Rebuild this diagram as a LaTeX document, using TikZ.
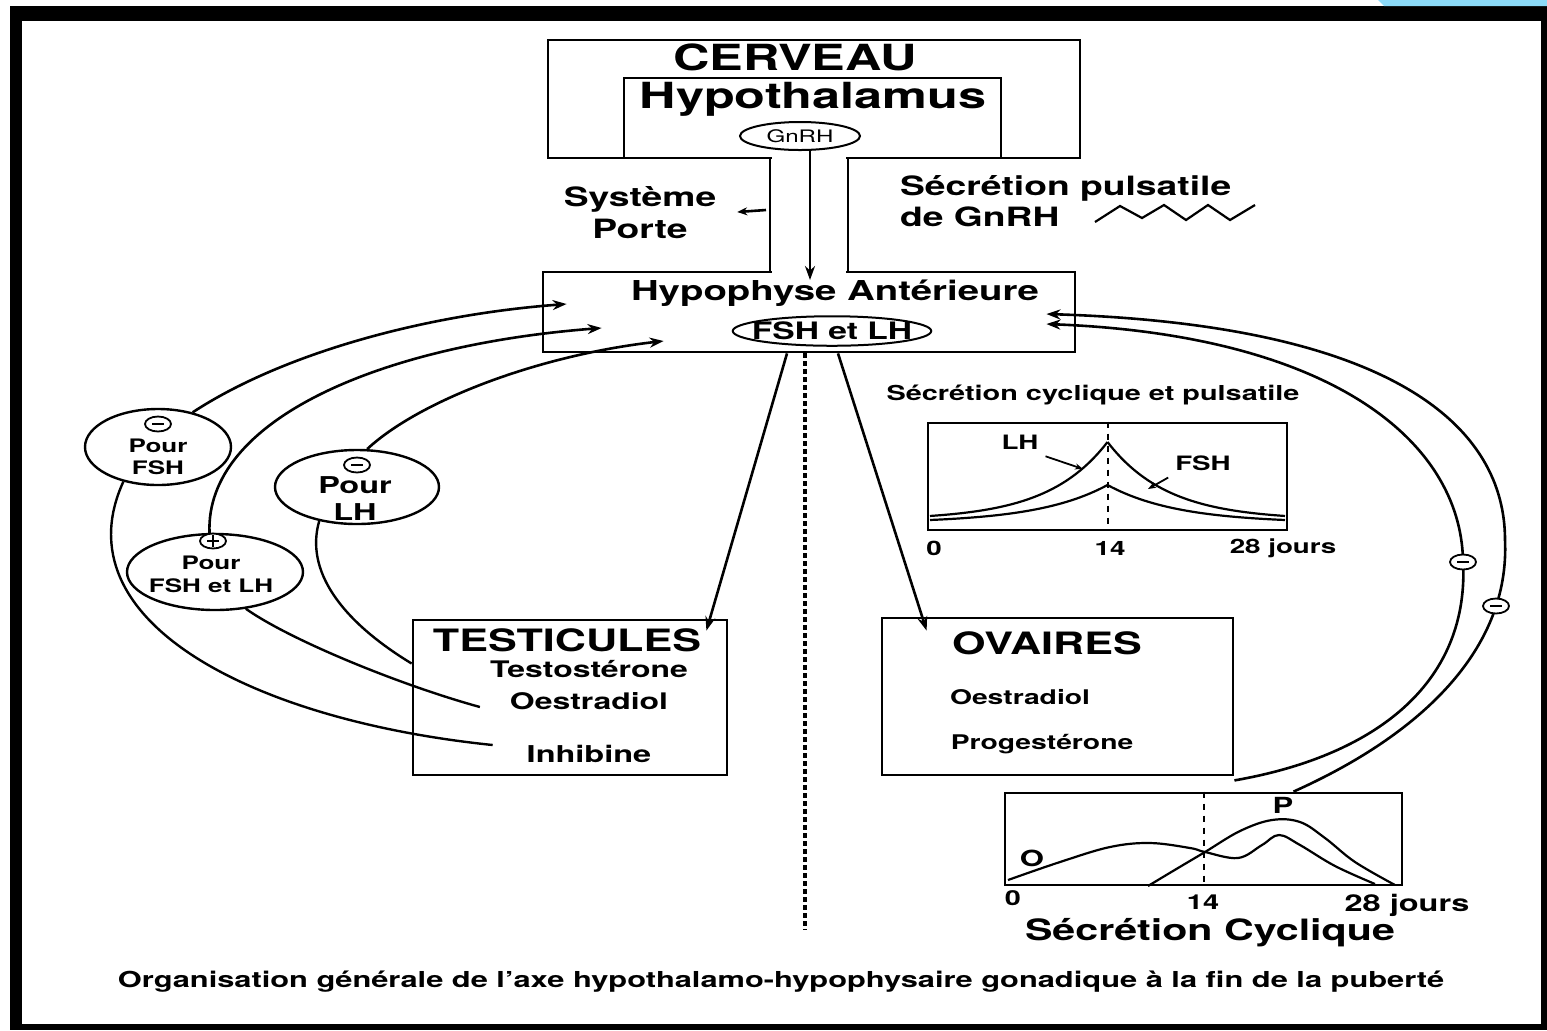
\documentclass[tikz,border=0pt]{standalone}
\usepackage{fontspec}
\setmainfont{TeX Gyre Heros}[FakeStretch=1.4]
\usetikzlibrary{arrows.meta,shapes.geometric}

\newcommand\fsz[2]{\fontsize{#1}{#2}\selectfont\bfseries}

\tikzset{
  box/.style={draw, line width=1.4pt, inner sep=0pt},
  hormone/.style={draw, ellipse, line width=1pt},
  target/.style={draw, ellipse, line width=1.2pt, inner sep=0pt},
  sign/.style={draw, ellipse, fill=white, line width=0.9pt, minimum width=13pt, minimum height=7.5pt, inner sep=0pt},
  minus/.style={sign, path picture={\draw[line width=1pt] ([xshift=-3pt]path picture bounding box.center) -- ([xshift=3pt]path picture bounding box.center);}},
  plus/.style={sign, path picture={\draw[line width=1pt] ([xshift=-3pt]path picture bounding box.center) -- ([xshift=3pt]path picture bounding box.center) ([yshift=-3pt]path picture bounding box.center) -- ([yshift=3pt]path picture bounding box.center);}},
  flow/.style={line width=1.3pt, -{Stealth[length=7pt,width=5pt]}},
  link/.style={line width=1.2pt},
  curve/.style={line width=1.1pt},
}

\begin{document}
\begin{tikzpicture}[x=0.5pt, y=-0.5pt]
            % Frame
            \useasboundingbox (0,0) rectangle (1547,1030);
            \fill[white] (0,0) rectangle (1547,1030);
            \fill[black] (10,6) rectangle (1547,1030);
            \fill[white] (22,21) rectangle (1541,1024);
            \fill[cyan!45] (1378,0) -- (1547,0) -- (1547,6) -- (1384,6) -- cycle;

            % Boxes
            \node[box, minimum width=266pt, minimum height=59pt] (cerveau) at (814,99) {};
            \node[box, minimum width=188.5pt, minimum height=40pt] (hypothal) at (812.5,118) {};
            \node[box, minimum width=266pt, minimum height=40pt] (hypophyse) at (809,312) {};
            \node[box, minimum width=157pt, minimum height=77.5pt] (testic) at (570,697.5) {};
            \node[box, minimum width=175.5pt, minimum height=78.5pt] (ovaires) at (1057.5,696.5) {};

            % Portal stalk
            \fill[white] (772,153) rectangle (846,277);
            \draw[line width=1.4pt] (770,158) -- (770,272);
            \draw[line width=1.4pt] (848,158) -- (848,272);

            % Brain and pituitary
            \node[font=\fsz{18}{20}] (cervtxt) at (795,57) {CERVEAU};
            \node[font=\fsz{18}{20}] (hypotxt) at (813,99) {Hypothalamus};
            \node[hormone, font=\fsz{8.6}{10}\mdseries, inner sep=1pt, minimum width=60pt, minimum height=14pt] (gnrh) at (800,136) {GnRH};
            \node[font=\fsz{13.3}{16}, align=center] (porte) at (640,213) {Système\\Porte};
            \node[font=\fsz{13.3}{15.5}, align=left, anchor=west] (pulse) at (893,201) {Sécrétion pulsatile\\de GnRH};
            \node[font=\fsz{13.7}{15}] (hypophtxt) at (835,293) {Hypophyse Antérieure};
            \node[hormone, font=\fsz{12}{14}, inner xsep=-5pt, inner ysep=0.7pt] (fshlh) at (832,331) {FSH et LH};

            \coordinate (gnrhin) at (810,280);
            \draw[flow] ([xshift=5pt]gnrh.south) -- (gnrhin);
            \coordinate (stalkL) at (766,210);
            \draw[line width=1.3pt, -{Stealth[length=5pt,width=4pt]}, shorten >=7pt] (stalkL) -- (porte.east);

            % Pulses
            \draw[line width=1.1pt] (1095,222) -- (1120,206) -- (1142,218) -- (1164,205) -- (1186,220)
                -- (1208,205) -- (1230,220) -- (1255,205);

            % Gonads
            \node[font=\fsz{15.4}{17}] (testtxt) at (567,640) {TESTICULES};
            \node[font=\fsz{11.4}{12}] (testo) at (589,669) {Testostérone};
            \node[font=\fsz{11.4}{12}] (oestrT) at (589,701) {Oestradiol};
            \node[font=\fsz{11.6}{12}] (inhib) at (589,754) {Inhibine};
            \node[font=\fsz{15.4}{17}] (ovtxt) at (1047,643) {OVAIRES};
            \node[font=\fsz{10.1}{11}] (oestrO) at (1020,697) {Oestradiol};
            \node[font=\fsz{10.1}{11}] (proges) at (1042,744) {Progestérone};

            \draw[flow] ([xshift=-11pt]hypophyse.south) -- ([xshift=-11pt,yshift=-6pt]testic.north east);
            \draw[flow] ([xshift=14.5pt]hypophyse.south) -- ([xshift=23pt,yshift=-7pt]ovaires.north west);

            % Midline
            \coordinate (axisend) at (805,930);
            \draw[line width=2pt, dash pattern=on 2.5pt off 1.5pt] ([xshift=-2pt]hypophyse.south) -- (axisend);

            % Feedback loops (male side)
            \node[target, minimum width=73pt, minimum height=38pt] (pfsh) at (158,447) {};
            \node[target, minimum width=82pt, minimum height=37pt] (plh) at (357,487) {};
            \node[target, minimum width=88pt, minimum height=38pt] (pboth) at (215,572) {};
            \node[font=\fsz{9.3}{11}, align=center] (pfshtxt) at (158,457) {Pour\\FSH};
            \node[font=\fsz{11.6}{13.5}, align=center] (plhtxt) at (355,499) {Pour\\LH};
            \node[font=\fsz{9.3}{11.5}, align=center] (pbothtxt) at (211,574) {Pour\\FSH et LH};
            \node[minus] (s1) at (158,424) {};
            \node[minus] (s2) at (357,465) {};
            \node[plus] (s3) at (213,541) {};

            \draw[flow] (pfsh.45) .. controls (280,355) and (420,315) .. ([xshift=12.5pt,yshift=4pt]hypophyse.west);
            \draw[flow] (pboth.98) .. controls (205,420) and (380,345) .. ([xshift=30pt,yshift=-8pt]hypophyse.west);
            \draw[flow] (plh.75) .. controls (420,400) and (540,355) .. ([xshift=61pt,yshift=-14.5pt]hypophyse.west);

            \draw[link] ([xshift=-13.5pt,yshift=4.5pt]inhib.west) .. controls (250,720) and (60,620) .. (pfsh.225);
            \draw[link] ([xshift=-11.5pt,yshift=-3pt]oestrT.west) .. controls (400,685) and (290,640) .. (pboth.310);
            \draw[link] ([yshift=17pt]testic.west) .. controls (340,620) and (305,570) .. (plh.222);

            % Cyclic and pulsatile secretion
            \node[font=\fsz{10.3}{11}] (cyctitle) at (1093,395) {Sécrétion cyclique et pulsatile};
            \node[box, minimum width=179.5pt, minimum height=53.5pt] (chart1) at (1107.5,476.5) {};
            \draw[line width=1pt, dashed] (chart1.north) -- (chart1.south);
            \draw[curve] plot[domain=930:1107.5, samples=40] (\x, {520-78*exp((\x-1107.5)/60)});
            \draw[curve] plot[domain=1107.5:1285, samples=40] (\x, {520-78*exp((1107.5-\x)/60)});
            \draw[curve] plot[domain=930:1107.5, samples=40] (\x, {523-38*exp((\x-1107.5)/70)});
            \draw[curve] plot[domain=1107.5:1285, samples=40] (\x, {523-38*exp((1107.5-\x)/70)});
            \node[font=\fsz{9.9}{11}] (lhlab) at (1020,442) {LH};
            \node[font=\fsz{9.9}{11}] (fshlab) at (1203,463) {FSH};
            \coordinate (lhpt) at (1083,469);
            \coordinate (fshpt) at (1148,489);
            \draw[line width=0.9pt, -{Stealth[length=4pt,width=3pt]}] (lhlab.south east) -- (lhpt);
            \draw[line width=0.9pt, -{Stealth[length=4pt,width=3pt]}] (fshlab.south west) -- (fshpt);
            \node[font=\fsz{9.9}{11}] (c1zero) at (934,548) {0};
            \node[font=\fsz{9.9}{11}] (c1mid) at (1110,548) {14};
            \node[font=\fsz{9.9}{11}] (c1end) at (1283,548) {28 jours};

            % Cyclic secretion
            \node[box, minimum width=198.5pt, minimum height=46pt] (chart2) at (1203.5,839) {};
            \draw[line width=1pt, dashed] (chart2.north) -- (chart2.south);
            \draw[curve] plot[smooth, tension=0.6] coordinates {(1008,880) (1060,862) (1110,847) (1150,843)
                (1190,848) (1205,852) (1238,858) (1262,845) (1279,835) (1300,845) (1335,866) (1375,884)};
            \draw[curve] plot[smooth, tension=0.6] coordinates {(1148,886) (1178,868) (1205,852) (1240,831)
                (1272,820) (1300,822) (1325,838) (1355,862) (1395,885)};
            \node[font=\fsz{11.1}{12}] (olab) at (1032,858) {O};
            \node[font=\fsz{11.1}{12}] (plab) at (1283,805) {P};
            \node[font=\fsz{10.3}{11}] (c2zero) at (1013,898) {0};
            \node[font=\fsz{10.3}{11}] (c2mid) at (1203,902) {14};
            \node[font=\fsz{11.6}{12}] (c2end) at (1407,905) {28 jours};
            \node[font=\fsz{14.7}{16}] (cyclique) at (1210,933) {Sécrétion Cyclique};

            % Feedback loops (female side)
            \draw[flow] ([xshift=45pt]chart2.north) .. controls (1420,735) and (1510,650) .. (1505,540)
                .. controls (1505,430) and (1400,325) .. ([xshift=-15pt,yshift=-1pt]hypophyse.east);
            \draw[flow] ([yshift=-2pt]ovaires.south east) .. controls (1380,755) and (1470,680) .. (1463,560)
                .. controls (1460,440) and (1330,335) .. ([xshift=-15pt,yshift=-6pt]hypophyse.east);
            \node[minus] (s4) at (1463,562) {};
            \node[minus] (s5) at (1496,606) {};

            % Caption
            \node[font=\fsz{11}{12}] (caption) at (781,982) {Organisation générale de l'axe hypothalamo-hypophysaire gonadique à la fin de la puberté};
\end{tikzpicture}
\end{document}
